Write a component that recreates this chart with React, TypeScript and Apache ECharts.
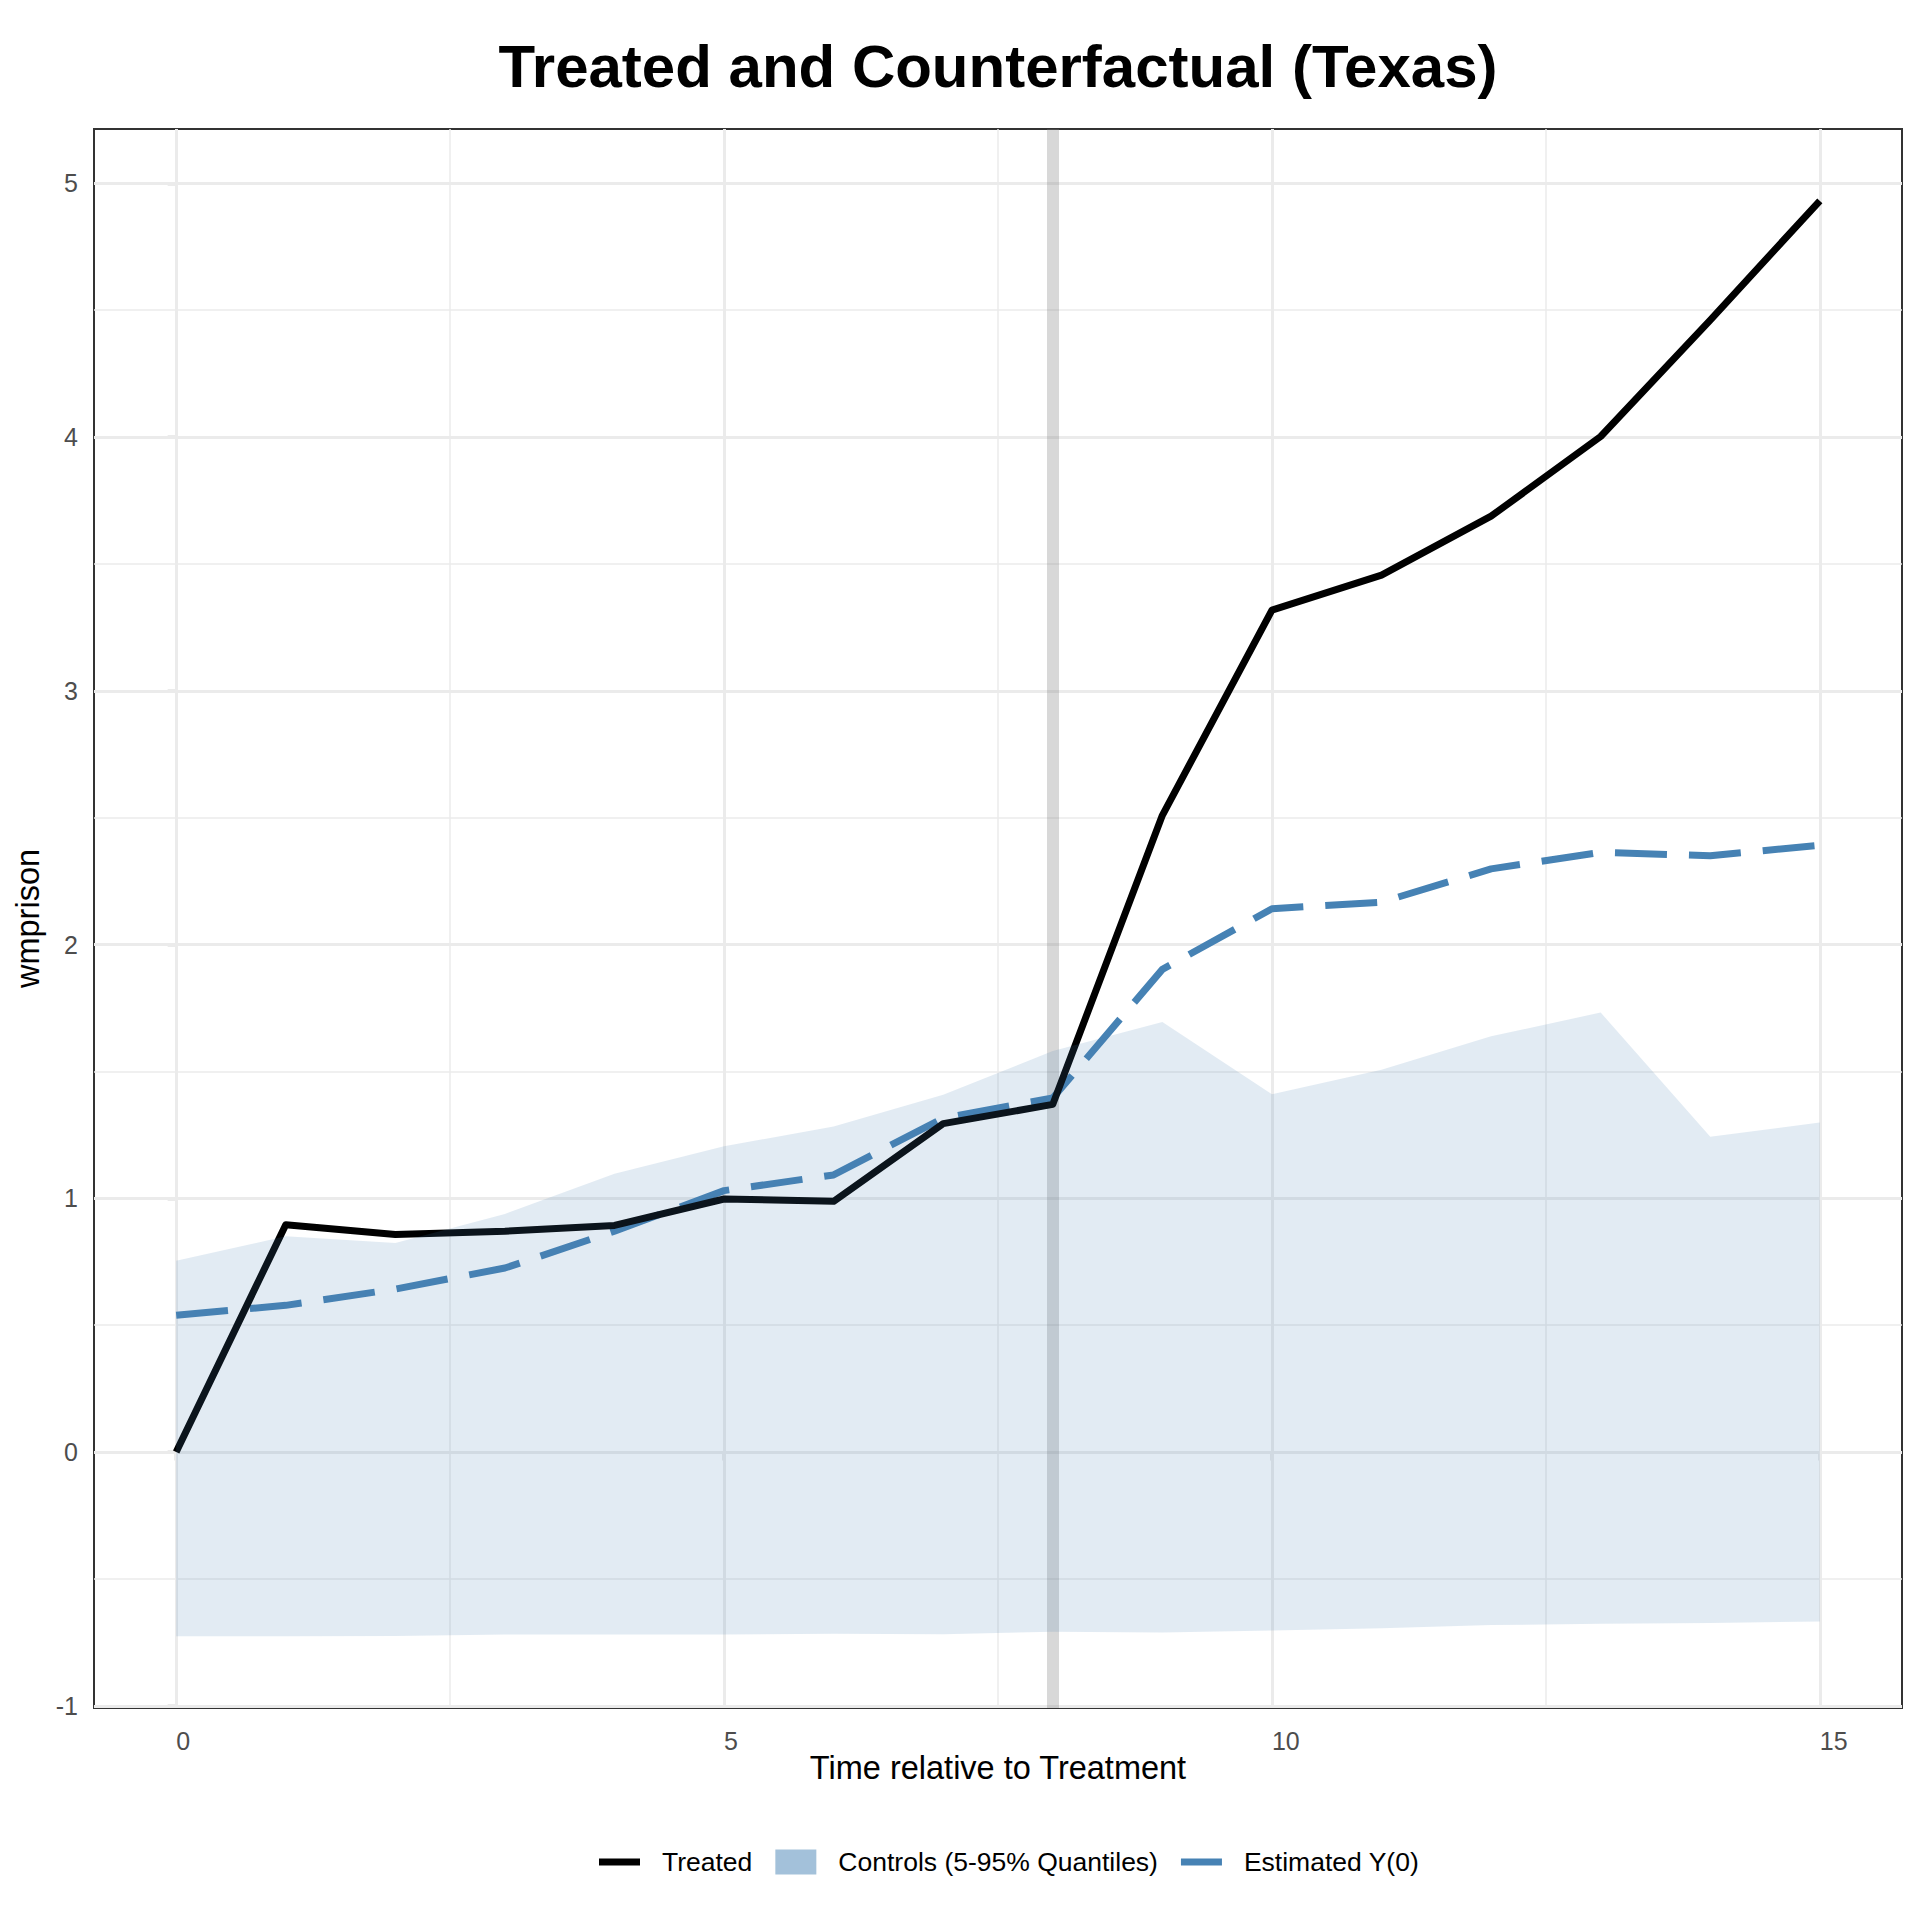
import React, { useEffect, useRef } from "react";
import * as echarts from "echarts";

const timeRel = [0, 1, 2, 3, 4, 5, 6, 7, 8, 9, 10, 11, 12, 13, 14, 15];
const treated = [0.0, 0.896, 0.857, 0.87, 0.893, 0.997, 0.988, 1.294, 1.37, 2.509, 3.318, 3.456, 3.688, 4.002, 4.461, 4.931];
const estimatedY0 = [0.539, 0.578, 0.642, 0.725, 0.87, 1.03, 1.092, 1.316, 1.395, 1.902, 2.141, 2.167, 2.298, 2.363, 2.35, 2.391];
const ctrlUpper = [0.754, 0.85, 0.824, 0.938, 1.097, 1.205, 1.283, 1.408, 1.58, 1.695, 1.41, 1.506, 1.638, 1.732, 1.242, 1.299];
const ctrlLower = [-0.726, -0.726, -0.725, -0.719, -0.719, -0.719, -0.716, -0.718, -0.708, -0.711, -0.703, -0.695, -0.682, -0.677, -0.674, -0.668];

const xTicks = [0, 5, 10, 15];
const xMinor = [2.5, 7.5, 12.5];
const yTicks = [-1, 0, 1, 2, 3, 4, 5];
const yMinor = [-0.5, 0.5, 1.5, 2.5, 3.5, 4.5];
const treatmentTime = 8;

const TITLE = "Treated and Counterfactual (Texas)";
const X_NAME = "Time relative to Treatment";
const Y_NAME = "wmprison";
const NAME_TREATED = "Treated";
const NAME_CTRL = "Controls (5-95% Quantiles)";
const NAME_EST = "Estimated Y(0)";

const FONT = "'Liberation Sans', Arial, Helvetica, sans-serif";

export default function App() {
  const ref = useRef<HTMLDivElement | null>(null);

  useEffect(() => {
    if (!ref.current) return;
    const chart = echarts.init(ref.current, undefined, { renderer: "svg" });

    const xLo = Math.min(...timeRel);
    const xHi = Math.max(...timeRel);
    const xPad = (xHi - xLo) * 0.05;
    const allY = [...treated, ...estimatedY0, ...ctrlUpper, ...ctrlLower];
    const yLo = Math.min(...allY);
    const yHi = Math.max(...allY);
    const yPad = (yHi - yLo) * 0.05;

    const gridColor = "#ebebeb";
    const gridLines: any[] = [
      ...xMinor.map((v) => ({ xAxis: v, lineStyle: { color: gridColor, width: 1.5, type: "solid" } })),
      ...yMinor.map((v) => ({ yAxis: v, lineStyle: { color: gridColor, width: 1.5, type: "solid" } })),
      ...xTicks.map((v) => ({ xAxis: v, lineStyle: { color: gridColor, width: 3, type: "solid" } })),
      ...yTicks.map((v) => ({ yAxis: v, lineStyle: { color: gridColor, width: 3, type: "solid" } })),
      { xAxis: treatmentTime, lineStyle: { color: "rgba(127,127,127,0.3)", width: 12, type: "solid" } },
    ];

    const option: any = {
      animation: false,
      backgroundColor: "#ffffff",
      textStyle: { fontFamily: FONT },
      graphic: [
        {
          type: "text",
          x: 998,
          y: 66,
          z: 10,
          style: {
            text: TITLE,
            font: `bold 60px ${FONT}`,
            fill: "#000000",
            align: "center",
            verticalAlign: "middle",
          },
        },
      ],
      grid: {
        left: 94,
        top: 129,
        right: 18,
        bottom: 212,
        show: true,
        borderColor: "#333333",
        borderWidth: 2,
        backgroundColor: "transparent",
        containLabel: false,
      },
      legend: {
        left: 599,
        top: 1848.5,
        padding: 0,
        orient: "horizontal",
        itemWidth: 41,
        itemHeight: 25,
        itemGap: 23,
        selectedMode: false,
        itemStyle: { borderWidth: 0 },
        textStyle: { fontSize: 26.5, color: "#000000", fontFamily: FONT, padding: [0, 0, 0, 17] },
        data: [
          { name: NAME_TREATED, icon: "path://M0 0H41V7H0Z", itemStyle: { color: "#000000" } },
          { name: NAME_CTRL, icon: "rect", itemStyle: { color: "#a3c1da" } },
          { name: NAME_EST, icon: "path://M0 0H41V7H0Z", itemStyle: { color: "#4682B4" } },
        ],
      },
      xAxis: {
        type: "value",
        min: xLo - xPad,
        max: xHi + xPad,
        axisLine: { show: false },
        splitLine: { show: false },
        axisTick: {
          show: true,
          inside: false,
          length: 8.5,
          customValues: xTicks,
          lineStyle: { color: "#333333", width: 2.2 },
        },
        axisLabel: {
          customValues: xTicks,
          align: "left",
          margin: 20,
          fontSize: 25,
          color: "#4d4d4d",
          fontFamily: FONT,
        },
        name: X_NAME,
        nameLocation: "middle",
        nameGap: 43,
        nameMoveOverlap: false,
        nameTextStyle: { fontSize: 32.5, color: "#000000", fontFamily: FONT },
      },
      yAxis: {
        type: "value",
        min: yLo - yPad,
        max: yHi + yPad,
        axisLine: { show: false },
        splitLine: { show: false },
        axisTick: {
          show: true,
          inside: false,
          length: 8.5,
          customValues: yTicks,
          lineStyle: { color: "#333333", width: 2.2 },
        },
        axisLabel: {
          customValues: yTicks,
          margin: 16,
          fontSize: 25,
          color: "#4d4d4d",
          fontFamily: FONT,
        },
        name: Y_NAME,
        nameLocation: "middle",
        nameGap: 48,
        nameTextStyle: { fontSize: 32.5, color: "#000000", fontFamily: FONT },
      },
      series: [
        {
          name: NAME_EST,
          type: "line",
          z: 3,
          color: "#4682B4",
          data: timeRel.map((t, i) => [t, estimatedY0[i]]),
          showSymbol: false,
          symbol: "none",
          silent: true,
          lineStyle: { color: "#4682B4", width: 7, type: [52, 22], cap: "butt", join: "round" },
          markLine: {
            silent: true,
            z: 1,
            symbol: ["none", "none"],
            label: { show: false },
            emphasis: { disabled: true },
            animation: false,
            data: gridLines,
          },
        },
        {
          name: NAME_TREATED,
          type: "line",
          z: 4,
          color: "#000000",
          data: timeRel.map((t, i) => [t, treated[i]]),
          showSymbol: false,
          symbol: "none",
          silent: true,
          lineStyle: { color: "#000000", width: 7, type: "solid", cap: "butt", join: "round" },
        },
        {
          name: NAME_CTRL,
          type: "custom",
          z: 5,
          silent: true,
          itemStyle: { color: "#a3c1da" },
          data: timeRel.map((t, i) => [t, ctrlLower[i], ctrlUpper[i]]),
          encode: { x: 0, y: [1, 2] },
          renderItem: (params: any, api: any) => {
            if (params.dataIndex !== 0) return null;
            const pts: number[][] = [];
            for (let i = 0; i < timeRel.length; i++) pts.push(api.coord([timeRel[i], ctrlUpper[i]]));
            for (let i = timeRel.length - 1; i >= 0; i--) pts.push(api.coord([timeRel[i], ctrlLower[i]]));
            return {
              type: "polygon",
              shape: { points: pts },
              style: { fill: "rgba(70,130,180,0.155)", stroke: "none" },
              silent: true,
            };
          },
        },
      ],
    };

    chart.setOption(option);
    return () => {
      chart.dispose();
    };
  }, []);

  return (
    <div
      ref={ref}
      style={{ position: "absolute", left: 0, top: 0, width: 1920, height: 1920, background: "#ffffff" }}
    />
  );
}
